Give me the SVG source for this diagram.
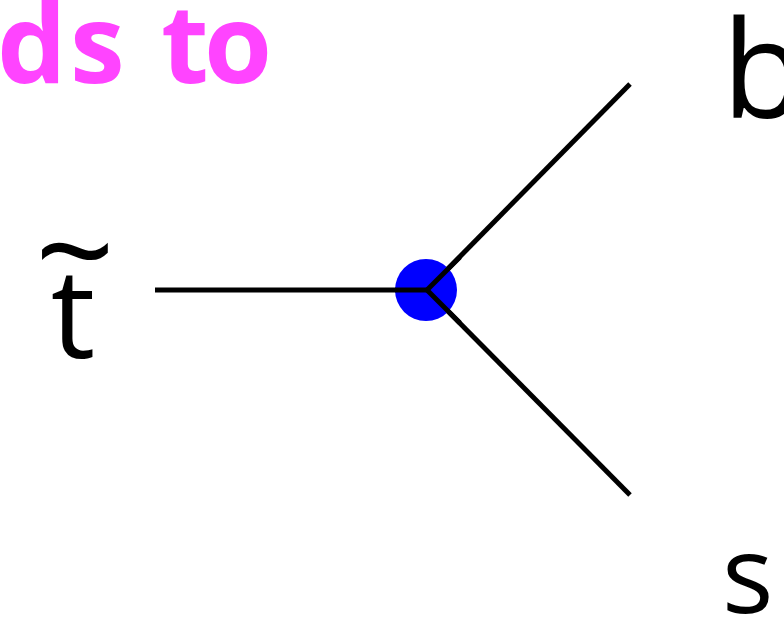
<svg xmlns="http://www.w3.org/2000/svg" width="784" height="626" viewBox="0 0 784 626">
<style>
.lbl{font-family:"Open Sans","Noto Sans",sans-serif;fill:#000}
.ln{stroke:#000;stroke-width:5;fill:none;stroke-linecap:butt}
</style>
<rect width="784" height="626" fill="#fff"/>
<text x="-3 70 118 161 204" y="83" font-family="Open Sans, sans-serif" font-weight="bold" font-size="110" fill="#ff44ff">ds to</text>
<g id="connectors">
<line class="ln" x1="155" y1="290" x2="427" y2="290"/>
<line class="ln" x1="427" y1="290" x2="630" y2="84" stroke-linecap="round"/>
<line class="ln" x1="427" y1="290" x2="630" y2="495" stroke-linecap="round"/>
</g>
<g id="vertex"><circle cx="426" cy="290" r="31" fill="#0000ff"/>
<line class="ln" x1="395" y1="290" x2="427" y2="290"/>
<line class="ln" x1="427" y1="290" x2="460" y2="257"/>
<line class="ln" x1="427" y1="290" x2="460" y2="323"/></g>
<g id="stop"><text class="lbl" x="73" y="358" text-anchor="middle" font-size="125">t</text><text class="lbl" x="75" y="300" text-anchor="middle" font-size="140">~</text></g>
<g id="b"><text class="lbl" x="722" y="118" font-size="135">b</text></g>
<g id="s"><text class="lbl" x="722" y="613" font-size="108">s</text></g>
</svg>
